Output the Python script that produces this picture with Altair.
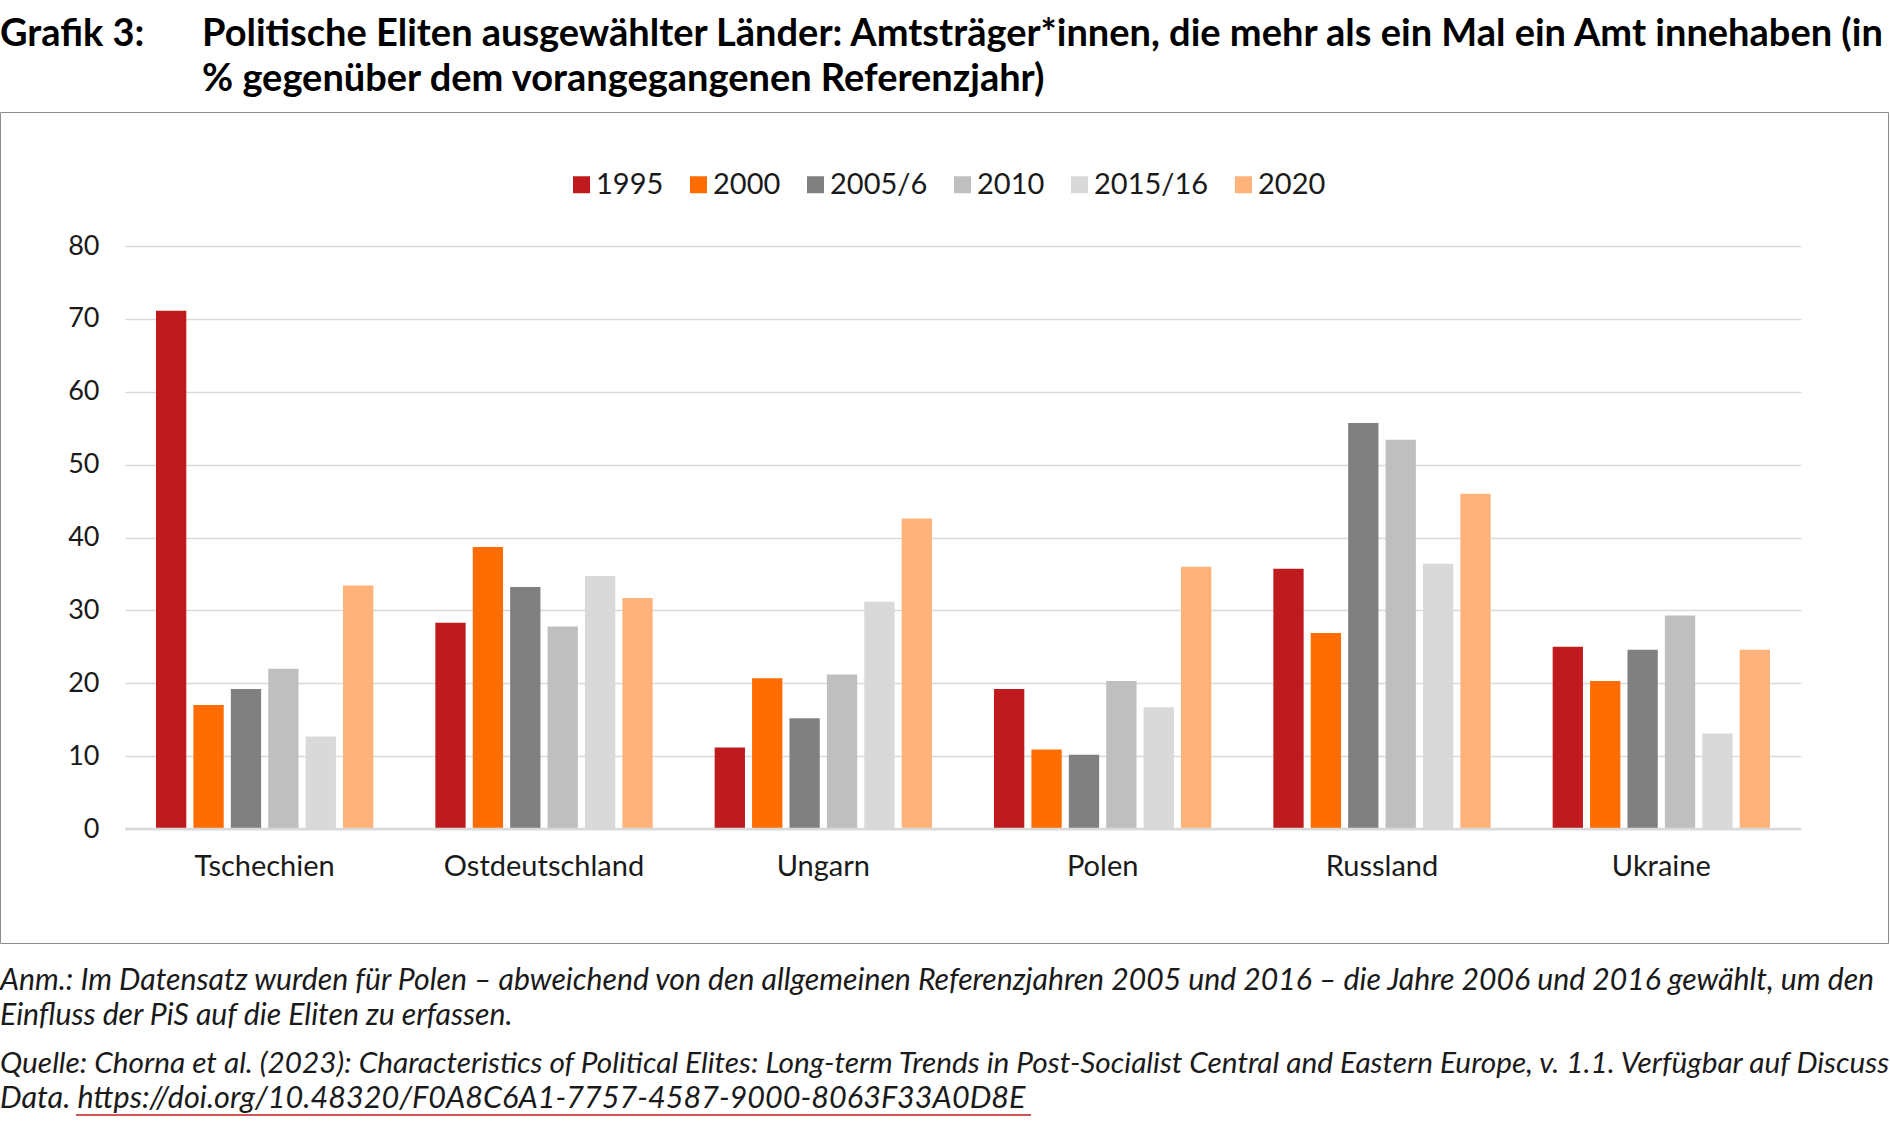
import altair as alt
import pandas as pd

countries = ["Tschechien", "Ostdeutschland", "Ungarn", "Polen", "Russland", "Ukraine"]
years = ["1995", "2000", "2005/6", "2010", "2015/16", "2020"]
colors = ["#BF1B1E", "#FF6D00", "#808080", "#BFBFBF", "#D9D9D9", "#FFB27A"]

v1995 = [71.1, 28.3, 11.2, 19.2, 35.7, 25.0]
v2000 = [17.0, 38.7, 20.7, 10.9, 26.9, 20.3]
v2005 = [19.2, 33.2, 15.2, 10.2, 55.7, 24.6]
v2010 = [22.0, 27.8, 21.2, 20.3, 53.4, 29.3]
v2015 = [12.7, 34.7, 31.2, 16.7, 36.4, 13.1]
v2020 = [33.4, 31.7, 42.6, 36.0, 46.0, 24.6]

title_label = "Grafik 3:"
title_line1 = "Politische Eliten ausgewählter Länder: Amtsträger*innen, die mehr als ein Mal ein Amt innehaben (in"
title_line2 = "% gegenüber dem vorangegangenen Referenzjahr)"
note1 = "Anm.: Im Datensatz wurden für Polen – abweichend von den allgemeinen Referenzjahren 2005 und 2016 – die Jahre 2006 und 2016 gewählt, um den"
note2 = "Einfluss der PiS auf die Eliten zu erfassen."
src1 = "Quelle: Chorna et al. (2023): Characteristics of Political Elites: Long-term Trends in Post-Socialist Central and Eastern Europe, v. 1.1. Verfügbar auf Discuss"
src2 = "Data. https://doi.org/10.48320/F0A8C6A1-7757-4587-9000-8063F33A0D8E"

series = [v1995, v2000, v2005, v2010, v2015, v2020]
rows = []
for y, vals in zip(years, series):
    for c, v in zip(countries, vals):
        rows.append({"Land": c, "Jahr": y, "Wert": v})
df = pd.DataFrame(rows)

FONT = "Lato"
one = pd.DataFrame({"a": [0]})

frame = alt.Chart(one).mark_rect(filled=False, stroke="#8C8C8C", strokeWidth=1).encode(
    x=alt.value(-124.5), x2=alt.value(1763.5), y=alt.value(-133.5), y2=alt.value(697.5)
)

bars = alt.Chart(df).mark_bar().encode(
    x=alt.X("Land:N", sort=countries, title=None,
            scale=alt.Scale(paddingInner=0.222, paddingOuter=0.111),
            axis=alt.Axis(labelAngle=0, domain=False, ticks=False, labelFontSize=29,
                          labelFont=FONT, labelColor="#1a1a1a", labelPadding=23,
                          labelLimit=0)),
    xOffset=alt.XOffset("Jahr:N", sort=years, scale=alt.Scale(paddingInner=0.19, paddingOuter=0)),
    y=alt.Y("Wert:Q", title=None, scale=alt.Scale(domain=[0, 80], nice=False),
            axis=alt.Axis(values=list(range(0, 81, 10)), domain=False, ticks=False,
                          labelFontSize=27, labelFont=FONT, labelColor="#1a1a1a",
                          labelPadding=26, gridColor="#D9D9D9", gridWidth=1.5)),
    color=alt.Color("Jahr:N", sort=years, scale=alt.Scale(domain=years, range=colors),
                    legend=alt.Legend(orient="none", legendX=442, legendY=-76,
                                      direction="horizontal", title=None,
                                      symbolType="square", symbolSize=289,
                                      symbolStrokeWidth=0, labelFontSize=29,
                                      labelFont=FONT, labelColor="#1a1a1a",
                                      labelOffset=0, columnPadding=20)),
)

zero = alt.Chart(pd.DataFrame({"z": [0]})).mark_rule(color="#D9D9D9", strokeWidth=2.5).encode(
    y="z:Q"
)


def txt(text, x, y, size, weight="normal", style="normal", color="#000000"):
    return alt.Chart(one).mark_text(
        text=text, align="left", baseline="middle", font=FONT, fontSize=size,
        fontWeight=weight, fontStyle=style, color=color
    ).encode(x=alt.value(x), y=alt.value(y))


texts = [
    txt(title_label, -125, -211, 38, weight="bold"),
    txt(title_line1, 77, -211, 38, weight="bold"),
    txt(title_line2, 77, -166, 38, weight="bold"),
    txt(note1, -125, 735, 30.2, style="italic", color="#1a1a1a"),
    txt(note2, -125, 770, 30.2, style="italic", color="#1a1a1a"),
    txt(src1, -125, 818, 29.8, style="italic", color="#1a1a1a"),
    txt(src2, -125, 853, 30.6, style="italic", color="#1a1a1a"),
]

underline = alt.Chart(one).mark_rule(color="#BF1B1E", strokeWidth=1.5).encode(
    x=alt.value(-49), x2=alt.value(906), y=alt.value(869)
)

chart = alt.layer(frame, bars, zero, underline, *texts).properties(
    width=1676, height=583,
    padding={"left": 125, "top": 246, "right": 89, "bottom": 296},
    autosize=alt.AutoSizeParams(type="none"),
    background="white",
).configure_view(stroke=None)

chart.save("out.html", embed_options={"renderer": "svg", "actions": False})
